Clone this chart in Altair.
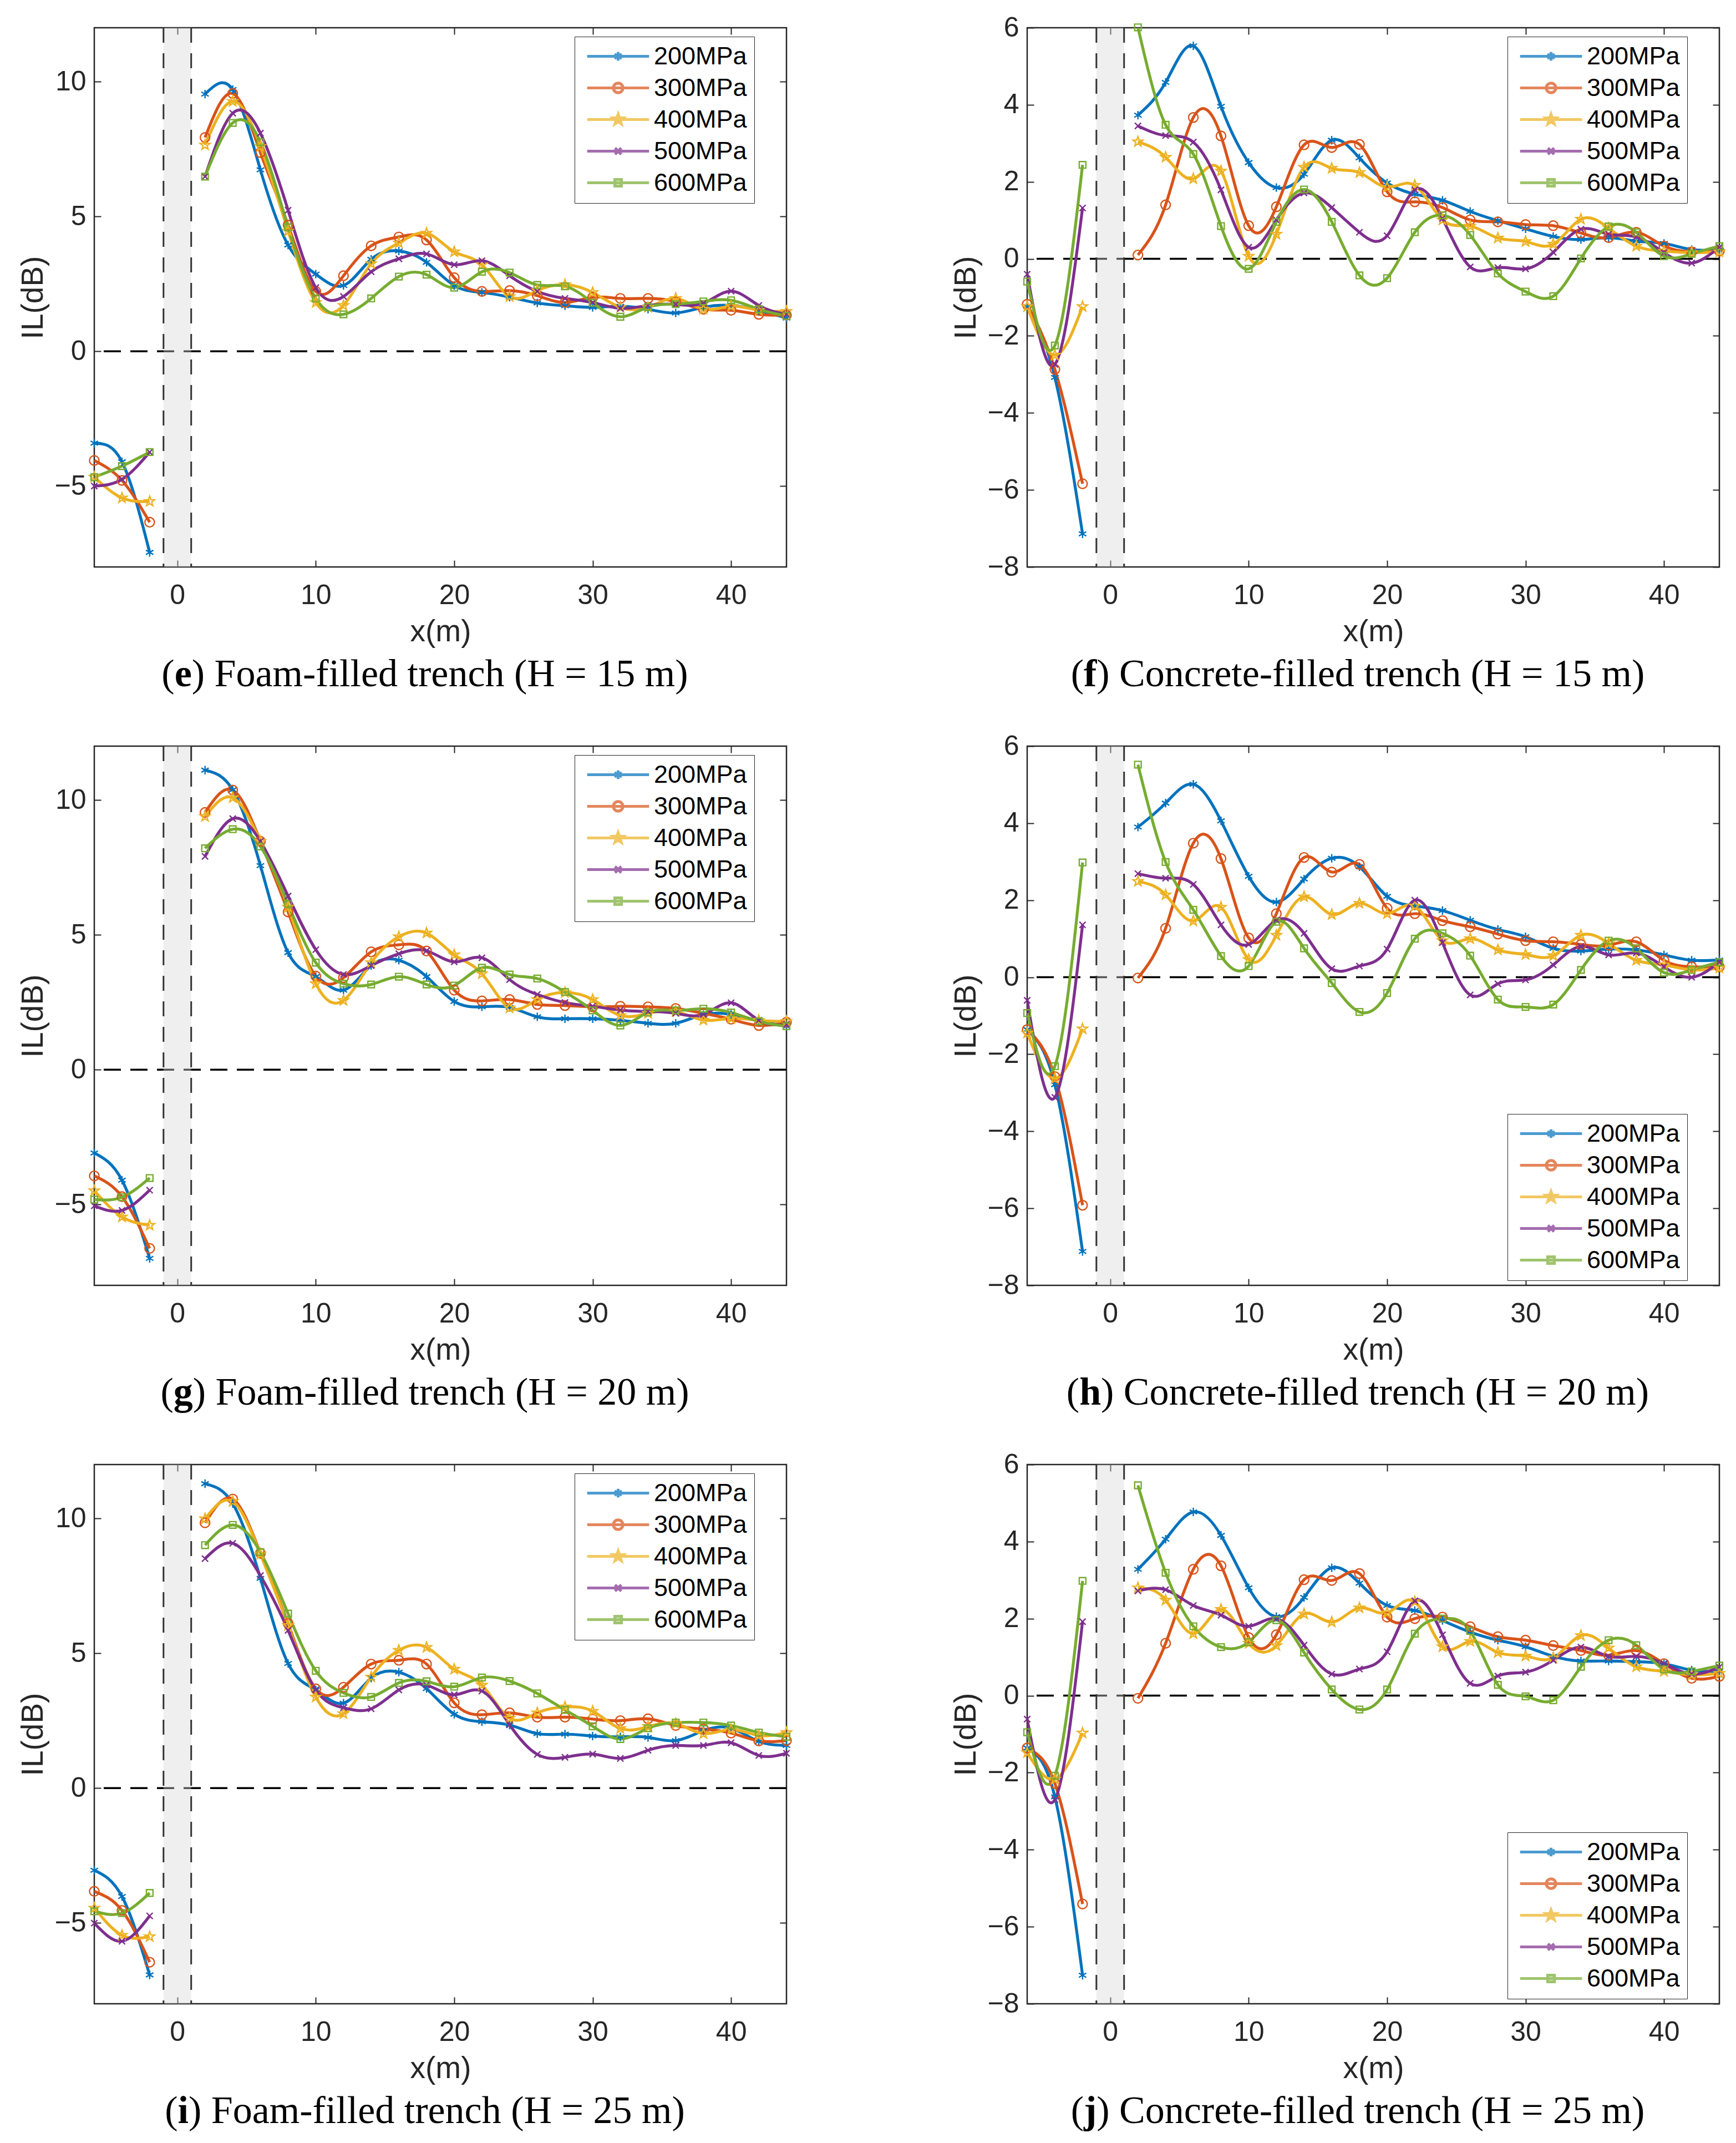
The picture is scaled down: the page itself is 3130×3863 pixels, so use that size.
import math

import altair as alt
import pandas as pd

X_LEFT = [-6, -4, -2]
X_RIGHT = [2, 4, 6, 8, 10, 12, 14, 16, 18, 20, 22, 24, 26, 28, 30, 32, 34, 36, 38, 40, 42, 44]
X_ALL = X_LEFT + X_RIGHT
SERIES = ["200MPa", "300MPa", "400MPa", "500MPa", "600MPa"]
COLORS = ["#0072BD", "#D95319", "#EDB120", "#7E2F8E", "#77AC30"]

# (e) foam-filled trench, H = 15 m   (first 3 values: x = -6, -4, -2; then x = 2 ... 44)
E_200 = [-3.41, -4.10, -7.46, 9.54, 9.71, 6.73, 3.94, 2.86, 2.44, 3.41, 3.72, 3.30, 2.44, 2.18, 2.01, 1.79, 1.69, 1.63, 1.67, 1.56, 1.42, 1.63, 1.70, 1.52, 1.23]
E_300 = [-4.05, -4.79, -6.34, 7.93, 9.56, 7.37, 4.68, 2.22, 2.80, 3.91, 4.24, 4.13, 2.73, 2.22, 2.25, 2.06, 1.81, 2.00, 1.96, 1.96, 1.84, 1.56, 1.52, 1.37, 1.34]
E_400 = [-4.67, -5.44, -5.57, 7.65, 9.27, 7.60, 4.46, 1.81, 1.70, 3.25, 4.02, 4.38, 3.69, 3.21, 2.03, 2.25, 2.47, 2.18, 1.63, 1.63, 1.96, 1.56, 1.67, 1.52, 1.48]
E_500 = [-5.00, -4.75, -3.74, 6.48, 8.83, 8.09, 5.23, 2.36, 2.03, 2.95, 3.43, 3.61, 3.21, 3.36, 2.80, 2.22, 1.96, 1.81, 1.59, 1.70, 1.74, 1.78, 2.23, 1.70, 1.37]
E_600 = [-4.67, -4.26, -3.74, 6.48, 8.47, 7.76, 4.60, 1.96, 1.37, 1.96, 2.77, 2.84, 2.36, 2.95, 2.92, 2.46, 2.41, 1.80, 1.28, 1.64, 1.75, 1.85, 1.89, 1.56, 1.31]

# (f) concrete-filled trench, H = 15 m
F_200 = [-1.24, -3.08, -7.14, 3.73, 4.58, 5.53, 3.96, 2.50, 1.85, 2.20, 3.08, 2.62, 1.97, 1.68, 1.52, 1.23, 0.99, 0.78, 0.58, 0.50, 0.55, 0.46, 0.40, 0.24, 0.23]
F_300 = [-1.18, -2.87, -5.84, 0.10, 1.40, 3.67, 3.19, 0.86, 1.35, 2.96, 2.89, 2.97, 1.74, 1.48, 1.33, 1.01, 0.96, 0.89, 0.86, 0.67, 0.55, 0.69, 0.33, 0.18, 0.20]
F_400 = [-1.24, -2.50, -1.24, 3.04, 2.64, 2.08, 2.28, 0.07, 0.64, 2.38, 2.35, 2.24, 1.86, 1.91, 1.01, 0.85, 0.54, 0.45, 0.38, 1.03, 0.80, 0.33, 0.20, 0.16, 0.18]
F_500 = [-0.40, -2.74, 1.32, 3.45, 3.20, 3.03, 1.79, 0.30, 1.01, 1.71, 1.33, 0.69, 0.60, 1.79, 1.05, -0.21, -0.23, -0.26, 0.17, 0.77, 0.64, 0.57, 0.16, -0.11, 0.30]
F_600 = [-0.59, -2.25, 2.44, 6.01, 3.48, 2.72, 0.85, -0.26, 0.96, 1.80, 0.96, -0.43, -0.50, 0.69, 1.13, 0.62, -0.38, -0.85, -0.97, 0.01, 0.84, 0.69, 0.07, 0.13, 0.33]

# (g) foam-filled trench, H = 20 m
G_200 = [-3.09, -4.10, -7.00, 11.11, 10.38, 7.57, 4.34, 3.45, 2.95, 3.86, 4.06, 3.45, 2.53, 2.33, 2.31, 1.96, 1.89, 1.89, 1.83, 1.72, 1.72, 2.04, 2.05, 1.81, 1.61]
G_300 = [-3.94, -4.71, -6.63, 9.54, 10.37, 8.47, 5.85, 3.47, 3.41, 4.37, 4.63, 4.40, 2.95, 2.55, 2.60, 2.42, 2.38, 2.33, 2.35, 2.33, 2.27, 2.09, 1.87, 1.64, 1.76]
G_400 = [-4.49, -5.46, -5.77, 9.39, 10.09, 8.47, 6.03, 3.19, 2.57, 3.97, 4.93, 5.07, 4.26, 3.56, 2.29, 2.60, 2.86, 2.60, 2.01, 2.09, 2.16, 1.84, 1.90, 1.83, 1.79]
G_500 = [-5.05, -5.22, -4.47, 7.91, 9.31, 8.47, 6.44, 4.45, 3.53, 3.86, 4.30, 4.41, 4.00, 4.15, 3.34, 2.79, 2.49, 2.35, 2.21, 2.16, 2.09, 2.05, 2.48, 1.83, 1.68]
G_600 = [-4.82, -4.73, -4.02, 8.21, 8.92, 8.28, 6.14, 3.97, 3.19, 3.16, 3.45, 3.16, 3.12, 3.78, 3.53, 3.38, 2.88, 2.20, 1.64, 2.12, 2.20, 2.26, 2.12, 1.79, 1.61]

# (h) concrete-filled trench, H = 20 m
H_200 = [-1.36, -2.79, -7.12, 3.90, 4.52, 5.01, 4.06, 2.62, 1.95, 2.55, 3.09, 2.87, 2.10, 1.85, 1.73, 1.48, 1.24, 1.05, 0.75, 0.68, 0.73, 0.71, 0.58, 0.44, 0.45]
H_300 = [-1.36, -2.58, -5.92, -0.02, 1.27, 3.48, 3.08, 1.02, 1.65, 3.11, 2.73, 2.93, 1.79, 1.65, 1.47, 1.31, 1.12, 0.95, 0.92, 0.85, 0.83, 0.92, 0.44, 0.27, 0.27]
H_400 = [-1.45, -2.63, -1.34, 2.49, 2.14, 1.46, 1.82, 0.46, 1.09, 2.09, 1.63, 1.92, 1.65, 1.85, 0.95, 1.00, 0.71, 0.59, 0.56, 1.09, 0.88, 0.44, 0.32, 0.19, 0.24]
H_500 = [-0.60, -3.12, 1.36, 2.69, 2.57, 2.41, 1.36, 0.85, 1.48, 1.14, 0.22, 0.29, 0.73, 2.00, 0.90, -0.46, -0.17, -0.07, 0.32, 0.80, 0.58, 0.63, 0.27, 0.00, 0.39]
H_600 = [-0.93, -2.31, 2.98, 5.52, 2.99, 1.75, 0.55, 0.29, 1.44, 0.75, -0.15, -0.90, -0.41, 1.00, 1.14, 0.56, -0.58, -0.77, -0.71, 0.19, 0.95, 0.75, 0.12, 0.19, 0.39]

# (i) foam-filled trench, H = 25 m
I_200 = [-3.05, -4.02, -6.93, 11.29, 10.55, 7.78, 4.62, 3.64, 3.15, 4.08, 4.30, 3.69, 2.74, 2.46, 2.34, 2.02, 2.00, 1.93, 1.90, 1.88, 1.76, 2.13, 2.22, 1.73, 1.58]
I_300 = [-3.83, -4.54, -6.46, 9.84, 10.72, 8.71, 6.10, 3.68, 3.74, 4.60, 4.74, 4.60, 3.16, 2.72, 2.79, 2.63, 2.63, 2.56, 2.50, 2.57, 2.32, 2.19, 2.04, 1.75, 1.76]
I_400 = [-4.45, -5.46, -5.51, 9.99, 10.63, 8.68, 6.03, 3.38, 2.76, 4.12, 5.11, 5.22, 4.41, 3.82, 2.59, 2.79, 3.01, 2.85, 2.21, 2.28, 2.39, 2.02, 2.17, 1.95, 2.06]
I_500 = [-5.01, -5.68, -4.74, 8.51, 9.08, 7.88, 5.85, 3.64, 2.98, 2.94, 3.64, 3.82, 3.46, 3.60, 2.35, 1.25, 1.14, 1.26, 1.10, 1.40, 1.58, 1.58, 1.68, 1.21, 1.29]
I_600 = [-4.57, -4.64, -3.89, 9.01, 9.76, 8.75, 6.47, 4.35, 3.53, 3.38, 3.90, 3.96, 3.76, 4.10, 3.97, 3.51, 2.90, 2.29, 1.82, 2.22, 2.43, 2.43, 2.32, 2.06, 1.90]

# (j) concrete-filled trench, H = 25 m
J_200 = [-1.36, -2.63, -7.26, 3.28, 4.06, 4.77, 4.16, 2.80, 2.05, 2.55, 3.32, 2.92, 2.34, 2.21, 1.95, 1.65, 1.44, 1.27, 1.02, 0.90, 0.90, 0.88, 0.83, 0.66, 0.63]
J_300 = [-1.36, -2.28, -5.41, -0.07, 1.36, 3.28, 3.37, 1.51, 1.58, 3.01, 2.99, 3.17, 2.04, 2.00, 2.04, 1.79, 1.53, 1.44, 1.30, 1.17, 1.05, 1.17, 0.83, 0.45, 0.50]
J_400 = [-1.48, -2.17, -0.97, 2.80, 2.48, 1.61, 2.24, 1.36, 1.30, 2.12, 1.91, 2.28, 2.15, 2.44, 1.27, 1.41, 1.12, 1.03, 0.98, 1.56, 1.24, 0.75, 0.63, 0.54, 0.58]
J_500 = [-0.61, -2.70, 1.92, 2.72, 2.75, 2.34, 2.09, 1.80, 2.00, 1.31, 0.56, 0.69, 1.14, 2.46, 1.58, 0.32, 0.51, 0.61, 0.92, 1.26, 1.02, 1.02, 0.83, 0.56, 0.74]
J_600 = [-0.95, -2.08, 2.98, 5.46, 3.19, 1.80, 1.26, 1.39, 1.96, 1.12, 0.16, -0.36, 0.16, 1.61, 2.00, 1.68, 0.28, -0.02, -0.12, 0.75, 1.44, 1.31, 0.68, 0.63, 0.78]

PANELS = [
    ("e", "Foam", 15, [E_200, E_300, E_400, E_500, E_600]),
    ("f", "Concrete", 15, [F_200, F_300, F_400, F_500, F_600]),
    ("g", "Foam", 20, [G_200, G_300, G_400, G_500, G_600]),
    ("h", "Concrete", 20, [H_200, H_300, H_400, H_500, H_600]),
    ("i", "Foam", 25, [I_200, I_300, I_400, I_500, I_600]),
    ("j", "Concrete", 25, [J_200, J_300, J_400, J_500, J_600]),
]
X_TICKS = [0, 10, 20, 30, 40]
FOAM_TICKS = [-5, 0, 5, 10]
CONCRETE_TICKS = [-8, -6, -4, -2, 0, 2, 4, 6]

W, H = 1248, 972
FONT = "Liberation Sans"
SERIF = "Liberation Serif"
INK = "#262626"
MS = 324  # marker box 18 px
LW = 5.2


def star(r_out, r_in):
    pts = []
    for k in range(10):
        a = math.radians(-90 + 36 * k)
        r = r_out if k % 2 == 0 else r_in
        pts.append(f"{r * math.cos(a):.3f},{r * math.sin(a):.3f}")
    return "M" + "L".join(pts) + "Z"


MARKERS = [
    "M0,-0.85L0,0.85M-0.74,-0.43L0.74,0.43M-0.74,0.43L0.74,-0.43",
    "M0.95,0A0.95,0.95 0 1,1 -0.95,0A0.95,0.95 0 1,1 0.95,0Z",
    star(1.05, 0.42),
    "M-0.62,-0.62L0.62,0.62M-0.62,0.62L0.62,-0.62",
    "M-0.66,-0.66L0.66,-0.66L0.66,0.66L-0.66,0.66Z",
]
LEGEND_SYMBOLS = ["M-6.2,0L6.2,0" + m for m in MARKERS]

# Times metrics (em) for the caption pieces
BOLD_EM = {"e": 0.444, "f": 0.333, "g": 0.5, "h": 0.556, "i": 0.278, "j": 0.333}
REST_EM = {"Foam": 12.784, "Concrete": 14.116}


def axis(orient, ticks, labels=True, title=None, **kw):
    return alt.Axis(
        orient=orient, values=ticks, labels=labels, title=title, grid=False,
        domain=False, ticks=True, tickSize=12, tickWidth=2, tickColor=INK, offset=-12,
        labelFont=FONT, labelFontSize=50, labelColor=INK, labelOverlap=False,
        titleFont=FONT, titleFontSize=55, titleFontWeight="normal", titleColor=INK,
        **kw,
    )


def panel(letter, fill, depth, values):
    rows = []
    for name, vals in zip(SERIES, values):
        for x, v in zip(X_ALL, vals):
            rows.append({"x": x, "il": v, "series": name, "side": "L" if x < 0 else "R"})
    df = pd.DataFrame(rows)

    foam = fill == "Foam"
    ys = alt.Scale(domain=[-8, 12] if foam else [-8, 6], nice=False, zero=False)
    yt = FOAM_TICKS if foam else CONCRETE_TICKS
    xs = alt.Scale(domain=[-6, 44], nice=False, zero=False)

    x_bottom = axis("bottom", X_TICKS, title="x(m)", labelPadding=26, titlePadding=14)
    x_top = axis("top", X_TICKS, labels=False)
    y_left = axis("left", yt, title="IL(dB)", labelPadding=15,
                  titleX=-123, titleY=H / 2, titleBaseline="middle")
    y_right = axis("right", yt, labels=False)

    zero = alt.Chart(pd.DataFrame({"y": [0]})).mark_rule(
        color="black", strokeWidth=3.5, strokeDash=[31, 17]
    ).encode(y=alt.Y("y:Q", scale=ys, axis=y_right))

    trench = alt.Chart(pd.DataFrame({"a": [-1], "b": [1]})).mark_rect(
        color="#d6d6d6", opacity=0.4
    ).encode(x=alt.X("a:Q", scale=xs, axis=None), x2="b:Q")

    walls = alt.Chart(pd.DataFrame({"x": [-1, 1]})).mark_rule(
        color="#333333", strokeWidth=3, strokeDash=[27, 19]
    ).encode(x=alt.X("x:Q", scale=xs, axis=x_top))

    color = alt.Scale(domain=SERIES, range=COLORS)
    lines = alt.Chart(df).mark_line(interpolate="natural", strokeWidth=LW, clip=True).encode(
        x=alt.X("x:Q", scale=xs, axis=x_bottom),
        y=alt.Y("il:Q", scale=ys, axis=y_left),
        color=alt.Color("series:N", scale=color, legend=None),
        detail="side:N",
    )
    points = alt.Chart(df).mark_point(filled=False, size=MS, strokeWidth=2.4, opacity=1).encode(
        x=alt.X("x:Q", scale=xs, axis=None),
        y=alt.Y("il:Q", scale=ys, axis=None),
        color=alt.Color("series:N", scale=color, legend=None),
        shape=alt.Shape("series:N", scale=alt.Scale(domain=SERIES, range=MARKERS), legend=None),
    )

    legend_y = 663 if letter in ("h", "j") else 16
    leg = alt.Legend(
        title=None, orient="none", legendX=866, legendY=legend_y,
        labelFont=FONT, labelFontSize=45, labelColor="black", labelLimit=500,
        symbolSize=MS, symbolStrokeWidth=LW, symbolOffset=43, labelOffset=42,
        padding=13, rowPadding=11, strokeColor=INK, fillColor="white",
    )
    legend_layer = alt.Chart(df).transform_filter("false").mark_point(filled=False, size=MS).encode(
        x=alt.X("x:Q", scale=xs, axis=None),
        y=alt.Y("il:Q", scale=ys, axis=None),
        color=alt.Color("series:N", scale=color, legend=leg),
        shape=alt.Shape("series:N", scale=alt.Scale(domain=SERIES, range=LEGEND_SYMBOLS), legend=leg),
    )

    # caption "(e) Foam-filled trench (H = 15 m)" with a bold letter
    fs = 70
    paren = 0.333 * fs
    bold_w = BOLD_EM[letter] * fs
    total = paren + bold_w + REST_EM[fill] * fs
    anchor = 596 - total / 2 + paren
    cy = H + 215
    cap_open = alt.Chart(pd.DataFrame({"t": ["("]})).mark_text(
        font=SERIF, fontSize=fs, align="right", baseline="alphabetic", color="black"
    ).encode(text="t:N", x=alt.value(anchor), y=alt.value(cy))
    cap_letter = alt.Chart(pd.DataFrame({"t": [letter]})).mark_text(
        font=SERIF, fontSize=fs, fontWeight="bold", align="left", baseline="alphabetic", color="black"
    ).encode(text="t:N", x=alt.value(anchor), y=alt.value(cy))
    cap_rest = alt.Chart(pd.DataFrame({"t": [f") {fill}-filled trench (H = {depth} m)"]})).mark_text(
        font=SERIF, fontSize=fs, align="left", baseline="alphabetic", color="black"
    ).encode(text="t:N", x=alt.value(anchor + bold_w), y=alt.value(cy))

    return alt.layer(
        zero, trench, walls, lines, points, legend_layer, cap_open, cap_letter, cap_rest
    ).resolve_scale(
        color="independent", shape="independent"
    ).resolve_axis(
        x="independent", y="independent"
    ).properties(width=W, height=H)


chart = alt.concat(
    *[panel(*p) for p in PANELS], columns=2, spacing={"row": 323, "column": 434}, bounds="flush"
).resolve_scale(
    color="independent", shape="independent"
).properties(
    padding={"left": 22, "top": 15, "right": 5, "bottom": 5}, background="white"
).configure_view(
    stroke=INK, strokeWidth=2.5
)

chart.save("out.html", embed_options={"renderer": "svg", "actions": False})
